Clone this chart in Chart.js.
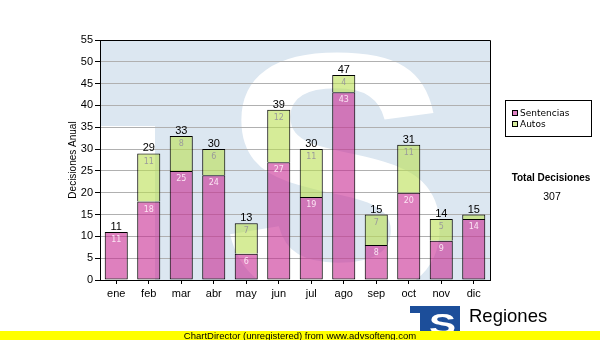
<!DOCTYPE html>
<html>
<head>
<meta charset="utf-8">
<script src="https://cdn.jsdelivr.net/npm/chart.js@4.4.1/dist/chart.umd.min.js"></script>
<style>
  html, body { margin: 0; padding: 0; background: #fff; }
  #wrap { position: relative; width: 600px; height: 340px; }
</style>
</head>
<body>
<div id="wrap"><canvas id="c" width="600" height="340"></canvas></div>
<script>
// Monthly decisions, split by type
const months = ['ene', 'feb', 'mar', 'abr', 'may', 'jun', 'jul', 'ago', 'sep', 'oct', 'nov', 'dic'];
const sentencias = [11, 18, 25, 24, 6, 27, 19, 43, 8, 20, 9, 14];
const autos = [0, 11, 8, 6, 7, 12, 11, 4, 7, 11, 5, 1];
const seriesNames = ['Sentencias', 'Autos'];
const yAxisTitle = 'Decisiones Anual';
const yMax = 55;
const yStep = 5;
const totalTitle = 'Total Decisiones';
const footerText = 'ChartDirector (unregistered) from www.advsofteng.com';
const brandText = 'Regiones';

const totals = months.map((m, i) => sentencias[i] + autos[i]);
const grandTotal = totals.reduce((a, b) => a + b, 0);

const fillColors = ['rgba(200, 43, 147, 0.6)', 'rgba(187, 223, 83, 0.6)'];
const swatchColors = ['#de80c2', '#d6ec9c'];
const innerLabelColors = ['#fbe4f3', '#9b9b9b'];

// Light "TS" emblem painted behind the plot
const watermark = {
  id: 'watermark',
  beforeDraw(chart) {
    const { ctx, chartArea: a } = chart;
    const w = a.right - a.left, h = a.bottom - a.top;
    ctx.save();
    ctx.beginPath();
    ctx.rect(a.left, a.top, w, h);
    ctx.clip();
    ctx.fillStyle = '#dce7f1';
    ctx.fillRect(a.left, a.top, w, h);
    ctx.fillStyle = '#ffffff';
    ctx.fillRect(a.left, a.top + 86, 55, h);
    ctx.font = 'bold 350px "Liberation Sans"';
    ctx.textBaseline = 'alphabetic';
    ctx.textAlign = 'left';
    ctx.fillText('S', a.left + 120, a.top + 257);
    ctx.restore();
  }
};

// Segment values inside the bars and stack totals above them
const valueLabels = {
  id: 'valueLabels',
  afterDatasetsDraw(chart) {
    const ctx = chart.ctx;
    ctx.save();
    ctx.textAlign = 'center';
    ctx.textBaseline = 'middle';
    ctx.font = '8px "DejaVu Sans"';
    chart.data.datasets.forEach((ds, i) => {
      const meta = chart.getDatasetMeta(i);
      meta.data.forEach((el, j) => {
        const v = ds.data[j];
        if (v < 2) return;
        ctx.fillStyle = innerLabelColors[i];
        ctx.fillText(String(v), el.x, el.y + 8);
      });
    });
    ctx.font = '11px "Liberation Sans"';
    ctx.fillStyle = '#000';
    ctx.textBaseline = 'alphabetic';
    const base = chart.getDatasetMeta(0).data;
    totals.forEach((t, j) => {
      ctx.fillText(String(t), base[j].x, chart.scales.y.getPixelForValue(t) - 2);
    });
    ctx.restore();
  }
};

// Plot frame, legend box, total, footer strip and brand mark
const decorations = {
  id: 'decorations',
  afterDraw(chart) {
    const { ctx, chartArea: a } = chart;
    ctx.save();
    ctx.strokeStyle = '#000';
    ctx.lineWidth = 1;
    ctx.beginPath();
    ctx.moveTo(a.left, a.top + 0.5);
    ctx.lineTo(a.right + 0.5, a.top + 0.5);
    ctx.lineTo(a.right + 0.5, a.bottom + 0.5);
    ctx.stroke();

    // legend
    ctx.fillStyle = '#fff';
    ctx.fillRect(505, 100, 87, 37);
    ctx.strokeRect(505.5, 100.5, 86, 36);
    ctx.font = '9px "DejaVu Sans"';
    ctx.textBaseline = 'middle';
    ctx.textAlign = 'left';
    seriesNames.forEach((name, i) => {
      const y = 110 + i * 11;
      ctx.fillStyle = swatchColors[i];
      ctx.fillRect(512, y, 6, 6);
      ctx.strokeRect(512.5, y + 0.5, 5, 5);
      ctx.fillStyle = '#000';
      ctx.fillText(name, 520, y + 3.5);
    });

    // grand total
    ctx.textAlign = 'center';
    ctx.font = 'bold 10px "Liberation Sans"';
    ctx.fillText(totalTitle, 551, 178);
    ctx.font = '10.5px "Liberation Sans"';
    ctx.fillText(String(grandTotal), 552, 197);

    // brand mark
    ctx.save();
    ctx.beginPath();
    ctx.rect(410, 306, 50, 26);
    ctx.clip();
    ctx.fillStyle = '#1c4e9a';
    ctx.fillRect(410, 306, 50, 26);
    ctx.fillStyle = '#fff';
    ctx.fillRect(410, 313, 10, 19);
    ctx.translate(429, 334);
    ctx.scale(1.35, 1);
    ctx.font = 'bold 30px "Liberation Sans"';
    ctx.textAlign = 'left';
    ctx.textBaseline = 'alphabetic';
    ctx.fillText('S', 0, 0);
    ctx.restore();
    ctx.fillStyle = '#000';
    ctx.textAlign = 'left';
    ctx.textBaseline = 'alphabetic';
    ctx.font = '18.5px "Liberation Sans"';
    ctx.fillText(brandText, 469, 322);

    // footer strip
    ctx.fillStyle = '#ffff00';
    ctx.fillRect(0, 331, 600, 9);
    ctx.fillStyle = '#000';
    ctx.textAlign = 'center';
    ctx.textBaseline = 'middle';
    ctx.font = '9.5px "Liberation Sans"';
    ctx.fillText(footerText, 300, 336);
    ctx.restore();
  }
};

Chart.defaults.color = '#000';
Chart.defaults.font.family = '"Liberation Sans", Arial, sans-serif';

new Chart(document.getElementById('c'), {
  type: 'bar',
  data: {
    labels: months,
    datasets: [sentencias, autos].map((vals, i) => ({
      label: seriesNames[i],
      data: vals,
      backgroundColor: fillColors[i],
      borderColor: '#000',
      borderWidth: 1,
      borderSkipped: i === 0 ? false : 'start',
      barPercentage: 0.71,
      categoryPercentage: 1
    }))
  },
  options: {
    responsive: false,
    devicePixelRatio: 1,
    animation: false,
    layout: { padding: { left: 0, right: 110, top: 40, bottom: 0 } },
    plugins: { legend: { display: false }, tooltip: { enabled: false } },
    scales: {
      x: {
        stacked: true,
        grid: { display: true, drawOnChartArea: false, offset: false, tickColor: '#000', tickLength: 4 },
        border: { color: '#000' },
        ticks: { padding: 3, color: '#000', font: { size: 11 } },
        afterFit(s) { s.height = 60; }
      },
      y: {
        stacked: true,
        min: 0,
        max: yMax,
        ticks: { stepSize: yStep, padding: 2, color: '#000', font: { size: 11 } },
        grid: { color: '#b0b0b0', tickColor: '#000', tickLength: 5 },
        border: { color: '#000' },
        title: { display: true, text: yAxisTitle, color: '#000', font: { size: 10 }, padding: { top: 67, bottom: 0 } },
        afterFit(s) { s.width = 100; }
      }
    }
  },
  plugins: [watermark, valueLabels, decorations]
});
</script>
</body>
</html>
